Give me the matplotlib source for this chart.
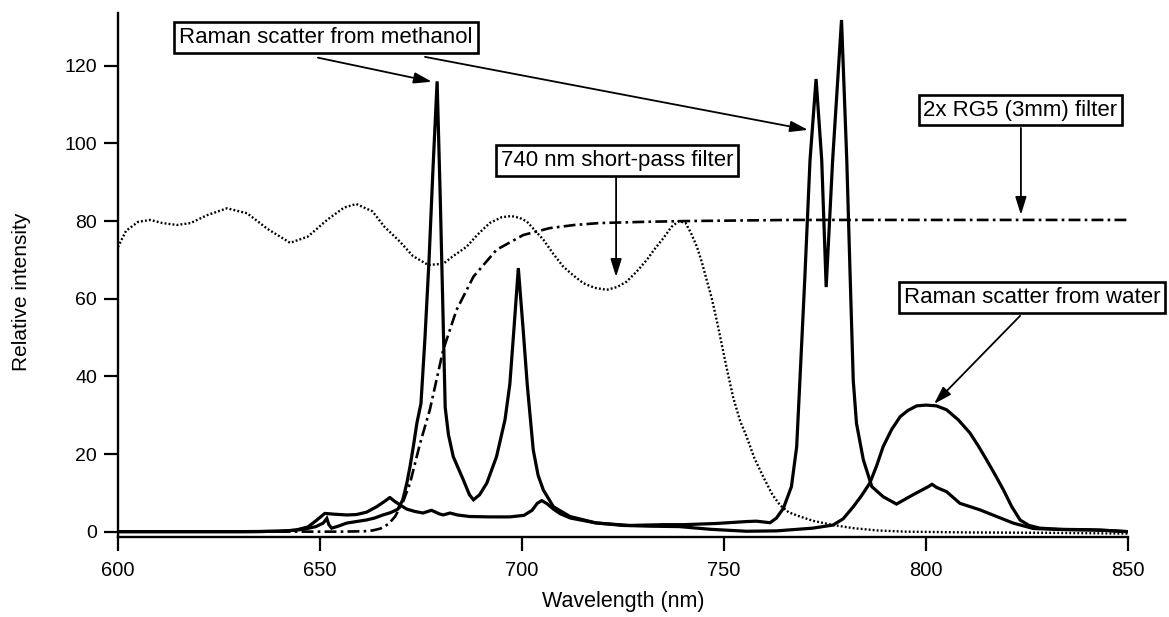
import matplotlib
matplotlib.use('Agg')
import matplotlib.pyplot as plt
import numpy as np

plt.rcParams['font.family'] = ['Liberation Sans', 'DejaVu Sans']

# Raman scatter from methanol (solid)
meoh_nm = [600, 620, 635, 642, 646, 649, 650.8, 651.7, 652.2, 652.9, 654.5, 656.6, 659, 661.5,
           663.5, 665.6, 667.5, 669.3, 670.5, 671.5, 672.3, 673.2, 674, 675, 676, 677, 678, 679,
           679.8, 681, 681.8, 683, 685.5, 687, 688, 689.5, 691.3, 693.7, 695.8, 697, 698, 699.1,
           700.3, 701.3, 702, 702.8, 704, 705.3, 707.8, 711.9, 718.5, 726.7, 735, 740, 748,
           755.6, 758, 761.4, 763, 764.7, 766.7, 768, 768.8, 770, 771.3, 772.8, 774.2, 775.3,
           776.9, 779.1, 780.4, 781.2, 782, 782.8, 784.5, 786.6, 789.4, 792.7, 796.8, 800.6,
           801.5, 802.6, 805.1, 808.4, 813.4, 817.5, 821.6, 826.6, 835, 843, 848, 850]
meoh_val = [0, 0, 0, 0.2, 0.6, 1.3, 2.2, 3.4, 1.8, 0.9, 1.4, 2.2, 2.6, 3.0,
            3.5, 4.3, 4.9, 5.8, 8.2, 12.5, 16.8, 22.5, 28, 33, 50, 70, 94, 116,
            85, 32, 25, 19.3, 13.3, 9.5, 8.2, 9.5, 12.5, 19.3, 28.8, 38, 52, 67.9,
            52, 38, 30, 21, 14.5, 10.7, 6.4, 3.9, 2.2, 1.6, 1.8, 1.8, 2.1,
            2.6, 2.7, 2.3, 3.5, 6, 11.6, 21.9, 39, 65, 95.7, 116.6, 95.7, 63,
            95.7, 131.8, 95.7, 67, 39, 27.9, 18.5, 11.6, 9, 7.1, 9.5, 11.6,
            12.2, 11.4, 10.3, 7.3, 5.6, 3.9, 2.2, 0.8, 0.5, 0.4, 0.1, 0]

# Raman scatter from water (solid)
water_nm = [600, 630, 640, 644, 647, 649, 651.2, 653.5, 656.6, 659, 661.5, 664, 666, 667.3,
            668.5, 669.8, 671.5, 673.5, 675.5, 677.6, 679.5, 680.5, 682.2, 684, 687, 692, 697,
            700.5, 702.5, 703.8, 704.9, 706.2, 707.8, 709.5, 712, 718, 725, 732, 739, 746.7,
            755.6, 763, 772, 777, 779.5, 782, 784, 786.1, 787.8, 789.4, 791.5, 793.6, 795.5,
            797.7, 800, 802.6, 805.1, 808, 810.9, 813, 815, 817.2, 819.2, 821.2, 823.3, 825.5,
            828.2, 833, 840, 845, 850]
water_val = [0, 0, 0.1, 0.4, 1.2, 2.8, 4.7, 4.5, 4.3, 4.4, 5.0, 6.4, 7.8, 8.8,
             7.8, 6.9, 5.8, 5.2, 4.8, 5.5, 4.6, 4.3, 4.8, 4.3, 3.9, 3.8, 3.8,
             4.2, 5.5, 7.3, 8.0, 7.2, 5.8, 4.6, 3.5, 2.3, 1.6, 1.4, 1.3, 0.6,
             0.1, 0.2, 0.9, 1.7, 3.3, 6.4, 9.2, 12.5, 17, 21.9, 26.3, 29.6, 31.2,
             32.4, 32.6, 32.4, 31.4, 28.8, 25.4, 22, 18.5, 14.5, 10.7, 6.5, 3, 1.6,
             0.9, 0.6, 0.5, 0.3, 0]

# 740 nm short-pass filter (dotted)
sp_nm = [600, 602, 605, 608, 611, 614.6, 618, 622, 627, 632, 637, 642.6, 647, 652, 656, 659,
         663, 666, 669.8, 673, 676.8, 680.5, 683, 686.3, 689, 692, 695, 697.4, 699.5, 701.2,
         703.3, 705.3, 707.8, 710.2, 712.7, 715.2, 718, 721, 723.5, 725.9, 728.4, 730.9, 733,
         735, 737, 738.8, 740.5, 741.8, 743.3, 744.5, 745.7, 747, 748.2, 749.5, 750.7, 752.3,
         754, 755.6, 757.5, 759.7, 762, 763.9, 766, 768.8, 772, 777, 782, 788, 795, 810, 830, 850]
sp_val = [73.3, 77.5, 79.8, 80.3, 79.5, 79, 79.5, 81.5, 83.3, 82, 78, 74.4, 76, 80.5, 83.5, 84.4,
          82.5, 78.5, 74.7, 71, 68.7, 69, 71, 73.4, 76.5, 79.5, 81, 81.3, 80.8, 79.9,
          77.5, 75.2, 71.5, 68.3, 66, 64, 62.8, 62.3, 63, 64.4, 67, 70, 73,
          75.6, 78.5, 80, 79.5, 77, 73.4, 69.5, 64.9, 60, 54.5, 48, 42, 34.5,
          28.5, 24.5, 19, 14.2, 9.5, 6.8, 5, 3.9, 2.8, 1.7, 0.9, 0.3, 0, -0.2, -0.3, -0.5]

# 2x RG5 (3mm) filter (dash-dot)
rg5_nm = [600, 630, 655, 661, 663, 665, 667, 668.6, 670.5, 672.3, 674.8, 677.2, 680.5, 683.8,
          688, 693.7, 700.3, 706.9, 713, 719.3, 730, 740, 767, 800, 850]
rg5_val = [0, 0, 0, 0.1, 0.3, 0.8, 2.0, 3.9, 7.5, 12.5, 22.8, 31.4, 46.8, 57.1,
           65.7, 72.6, 76.4, 78.2, 79, 79.5, 79.8, 80, 80.3, 80.3, 80.3]

fig = plt.figure(figsize=(11.69, 6.17), dpi=100)
ax = fig.add_axes([0.1009, 0.1289, 0.864, 0.85])

ax.plot(sp_nm, sp_val, color='black', lw=1.7, linestyle=(0, (0.8, 0.9)))
ax.plot(rg5_nm, rg5_val, color='black', lw=1.9, linestyle=(0, (4.5, 1.6, 1, 1.6)))
ax.plot(water_nm, water_val, color='black', lw=2.3, solid_joinstyle='round')
ax.plot(meoh_nm, meoh_val, color='black', lw=2.3, solid_joinstyle='miter')

ax.set_xlim(600, 850)
ax.set_ylim(-1.5, 133.6)
ax.set_xticks(np.arange(600, 851, 50))
ax.set_yticks(np.arange(0, 121, 20))
ax.spines['top'].set_visible(False)
ax.spines['right'].set_visible(False)
ax.spines['left'].set_linewidth(1.7)
ax.spines['bottom'].set_linewidth(1.7)
ax.tick_params(axis='both', direction='out', length=10, width=1.6, color='black')
ax.tick_params(axis='x', labelsize=14.5, pad=7)
ax.tick_params(axis='y', labelsize=14, pad=5)

fig.text(22 / 1169, 1 - 292 / 617, 'Relative intensity', rotation=90,
         ha='center', va='center', fontsize=15)
fig.text(623 / 1169, 1 - 601 / 617, 'Wavelength (nm)', ha='center', va='center', fontsize=15.5)

box = dict(boxstyle='square,pad=0.22', facecolor='white', edgecolor='black', lw=1.9)
arrow = dict(arrowstyle='-|>,head_length=0.9,head_width=0.28', color='black', lw=1.3,
             mutation_scale=12, shrinkA=0, shrinkB=0)

ax.text(651.5, 127.3, 'Raman scatter from methanol', ha='center', va='center',
        fontsize=16, bbox=box)
ax.annotate('', xy=(677.7, 115.9), xytext=(649.5, 122.1), arrowprops=arrow)
ax.annotate('', xy=(770.8, 103.5), xytext=(676.0, 122.3), arrowprops=arrow)

ax.text(723.6, 95.6, '740 nm short-pass filter', ha='center', va='center',
        fontsize=16, bbox=box)
ax.annotate('', xy=(723.3, 65.6), xytext=(723.3, 91.2), arrowprops=arrow)

ax.text(823.4, 108.6, '2x RG5 (3mm) filter', ha='center', va='center',
        fontsize=16, bbox=box)
ax.annotate('', xy=(823.5, 81.6), xytext=(823.5, 104.0), arrowprops=arrow)

ax.text(826.2, 60.3, 'Raman scatter from water', ha='center', va='center',
        fontsize=16, bbox=box)
ax.annotate('', xy=(802.0, 32.9), xytext=(823.3, 55.6), arrowprops=arrow)

fig.savefig('out.png', dpi=100)
